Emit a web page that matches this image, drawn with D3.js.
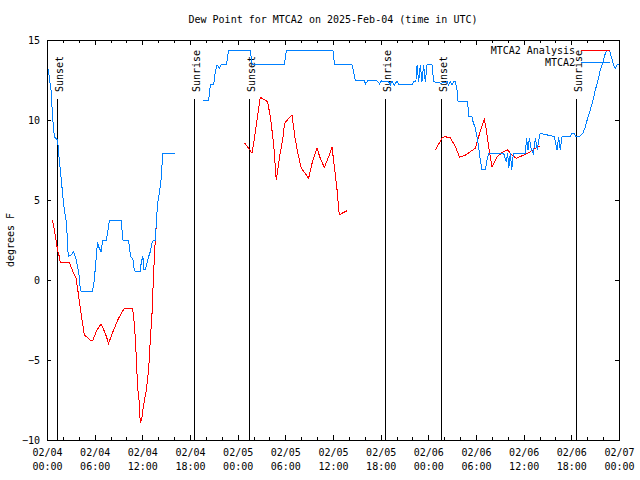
<!DOCTYPE html>
<html><head><meta charset="utf-8">
<script src="https://cdn.jsdelivr.net/npm/d3@7"></script>
<style>
body{margin:0;background:#fff;}
text{font-family:"DejaVu Sans Mono","Liberation Mono",monospace;font-size:10px;fill:#000;}
</style></head>
<body><svg id="c" width="640" height="480"></svg>
<script>
const title = "Dew Point for MTCA2 on 2025-Feb-04 (time in UTC)";
const yLabel = "degrees F";
const startUTC = Date.UTC(2025, 1, 4, 0, 0);
const xTickHours = [0,6,12,18,24,30,36,42,48,54,60,66,72];
const xMinorHours = d3.range(0, 73, 2);
const yTicks = [-10,-5,0,5,10,15];
const sunEvents = ["Sunset","Sunrise","Sunset","Sunrise","Sunset","Sunrise"];
const sunHours = [1.33, 18.56, 25.5, 42.62, 49.63, 66.63];
const legendNames = ["MTCA2 Analysis","MTCA2"];

// MTCA2 observed (hours since 02/04 00:00 UTC, deg F); null = gap
const obsHours = [0.16,0.5,0.7,0.92,1.33,1.55,1.76,1.96,2.18,2.39,2.52,2.68,3.02,3.35,3.56,3.69,3.85,4.07,4.19,4.28,5.74,5.95,6.17,6.37,6.5,6.8,7.0,7.43,7.63,7.84,9.32,9.57,10.27,10.4,10.57,10.83,10.99,11.12,11.74,11.87,12.08,12.16,12.37,12.79,13.0,13.22,13.42,13.63,13.76,13.92,14.14,14.35,14.51,14.6,16.15,
 17.5,
 19.59,20.34,20.56,20.97,21.19,21.4,21.73,21.9,22.57,22.86,25.59,25.81,25.93,29.87,30.13,36.0,36.17,36.29,38.39,38.6,38.81,39.94,40.1,40.36,41.54,41.87,42.08,43.0,43.21,43.43,43.72,44.06,44.35,44.69,45.95,46.15,46.43,46.58,46.78,46.99,47.2,47.41,47.62,47.83,48.46,48.67,49.63,50.35,50.55,50.77,50.98,51.18,51.4,51.61,51.74,52.95,53.07,53.5,53.63,53.92,54.2,54.38,54.54,54.76,55.17,55.39,55.59,55.8,57.48,57.82,57.98,58.13,58.32,58.5,58.7,60.21,60.37,60.55,60.71,60.96,61.22,61.47,61.72,61.97,62.1,63.86,64.2,64.4,64.61,64.83,65.87,66.09,66.38,66.56,67.0,67.47,67.76,68.05,68.39,68.73,69.02,69.31,69.65,69.99,70.28,70.49,70.82,71.03,71.32,71.54,71.75,72.0];
const obsValues = [13.17,11.88,10.21,8.96,8.75,7.5,6.46,5.42,4.38,3.75,2.92,1.46,1.56,1.77,1.46,1.25,0.83,0.21,-0.63,-0.69,-0.69,0,1.25,2.4,2.08,1.77,2.46,2.46,2.92,3.71,3.71,2.5,2.5,1.88,1.46,1.25,0.63,0.52,0.52,1.14,1.46,0.63,0.63,1.46,1.77,2.29,2.5,2.5,3.56,4.79,5.44,6.25,7.39,7.92,7.92,
 null,
 11.19,11.19,12.19,12.19,13.02,13.44,13.23,13.44,13.44,14.33,14.33,13.54,13.44,13.44,14.33,14.33,13.54,13.44,13.44,13.02,12.46,12.46,12.25,12.44,12.44,12.25,12.44,12.4,12.19,12.44,12.19,12.44,12.19,12.19,12.19,12.4,12.4,13.44,12.4,13.44,12.4,13.44,12.4,13.44,13.44,12.4,12.29,12.4,12.19,12.4,12.19,12.4,12.4,11.88,11.14,11.14,10.21,10.21,9.89,9.48,8.75,8.13,7.5,6.88,6.88,7.5,7.92,7.92,7.92,7.39,7.92,7.0,7.92,6.88,7.92,7.92,8.86,8.13,8.86,8.13,7.92,8.86,8.13,8.96,9.17,8.96,8.13,8.96,8.13,8.96,8.96,9.17,9.17,8.96,8.96,9.17,9.58,10.1,10.63,11.25,11.88,12.4,13.13,13.64,14.17,14.33,14.33,13.96,13.44,13.23,13.44,13.44];

// MTCA2 Analysis
const anaHours = [0.7,0.92,1.13,1.33,1.55,1.67,2.81,3.02,3.44,3.65,3.85,4.1,4.41,4.7,5.04,5.45,5.74,6.29,6.8,7.34,7.75,8.38,9.01,9.73,10.78,11.03,11.24,11.4,11.62,11.74,11.96,12.16,12.5,12.79,13.0,13.22,13.42,13.63,13.76,
 20.0,
 24.84,25.38,25.81,26.01,26.43,26.85,27.27,27.77,28.11,28.52,28.86,29.28,29.66,29.91,30.41,30.84,31.26,31.67,32.01,32.51,32.93,33.36,33.99,34.4,34.91,35.45,35.88,36.17,36.51,36.79,37.13,37.76,
 44.0,
 48.88,49.72,50.05,50.77,51.4,51.94,52.66,53.29,53.92,54.46,55.05,55.3,55.59,56.02,56.65,57.28,57.98,58.53,59.08,60.0,60.84,61.47,62.1];
const anaValues = [3.75,3.13,2.5,1.88,1.46,1.08,1.08,0.83,0.31,0.11,-0.52,-1.44,-2.5,-3.44,-3.58,-3.75,-3.79,-3.13,-2.75,-3.33,-3.96,-3.13,-2.39,-1.77,-1.77,-2.92,-4.79,-6.67,-7.69,-8.96,-8.54,-7.81,-6.88,-5.63,-3.75,-2.08,0.42,2.5,3.44,
 null,
 8.58,8.23,7.92,8.54,10.0,11.42,11.29,11.14,10.21,8.54,6.25,7.71,8.75,9.79,10.1,10.31,8.75,7.71,6.98,6.67,6.35,7.29,8.23,7.6,7.04,7.71,8.29,7.08,5.63,4.06,4.17,4.33,
 null,
 8.13,8.86,8.96,8.89,8.33,7.67,7.81,8.02,8.23,9.17,10.04,9.38,8.33,7.08,7.71,7.96,8.13,7.81,7.6,7.81,8.02,8.23,8.38];

const toDate = h => new Date(startUTC + h * 3600e3);
const L = 47, R = 619, T = 40, B = 440;
const svg = d3.select("#c");
const x = d3.scaleUtc().domain([toDate(0), toDate(72)]).range([L, R]);
const y = d3.scaleLinear().domain([-10, 15]).range([B, T]);

// title
svg.append("text").attr("x", 333).attr("y", 23).attr("text-anchor", "middle").text(title);
svg.append("text").attr("transform", "translate(14,240) rotate(-90)").attr("text-anchor", "middle").text(yLabel);

// axes
const fmtD = d3.utcFormat("%m/%d"), fmtT = d3.utcFormat("%H:%M");
const gxb = svg.append("g").attr("transform", `translate(0,${B})`)
  .call(d3.axisBottom(x).tickValues(xTickHours.map(toDate)).tickSizeInner(-5).tickSizeOuter(0).tickFormat(""));
gxb.selectAll(".tick").append("text").attr("y", 16).attr("text-anchor","middle")
  .each(function(d){ const t=d3.select(this);
    t.append("tspan").attr("x",0).text(fmtD(d));
    t.append("tspan").attr("x",0).attr("dy",14).text(fmtT(d)); });
svg.append("g").attr("transform", `translate(0,${B})`)
  .call(d3.axisBottom(x).tickValues(xMinorHours.map(toDate)).tickSizeInner(-3).tickSizeOuter(0).tickFormat(""));
svg.append("g").attr("transform", `translate(0,${T})`)
  .call(d3.axisTop(x).tickValues(xTickHours.map(toDate)).tickSizeInner(-5).tickSizeOuter(0).tickFormat(""));
svg.append("g").attr("transform", `translate(0,${T})`)
  .call(d3.axisTop(x).tickValues(xMinorHours.map(toDate)).tickSizeInner(-3).tickSizeOuter(0).tickFormat(""));
const gyl = svg.append("g").attr("transform", `translate(${L},0)`)
  .call(d3.axisLeft(y).tickValues(yTicks).tickSizeInner(-4).tickSizeOuter(0).tickPadding(8).tickFormat(d3.format("d")));
gyl.selectAll("text").attr("x", -7).attr("dy","0.35em");
svg.append("g").attr("transform", `translate(${R},0)`)
  .call(d3.axisRight(y).tickValues(yTicks).tickSizeInner(-4).tickSizeOuter(0).tickFormat(""));
svg.selectAll(".domain").remove();
svg.selectAll(".tick line").attr("stroke","#000").attr("shape-rendering","crispEdges");
svg.selectAll(".tick text").style("font-family",'"DejaVu Sans Mono",monospace').style("font-size","10px").attr("fill","#000");

// sunrise / sunset
sunHours.forEach((h,i)=>{
  const sx = x(toDate(h));
  svg.append("line").attr("x1",sx).attr("x2",sx).attr("y1",99).attr("y2",B)
    .attr("stroke","#000").attr("shape-rendering","crispEdges");
  svg.append("text").attr("transform",`translate(${sx+5.5},92) rotate(-90)`).text(sunEvents[i]);
});

// lines
const line = d3.line().defined(d=>d[1]!==null).x(d=>x(toDate(d[0]))).y(d=>y(d[1]));
const obs = obsHours.map((h,i)=>[h,obsValues[i]]);
const ana = anaHours.map((h,i)=>[h,anaValues[i]]);
svg.append("path").datum(ana).attr("d",line).attr("fill","none").attr("stroke","#ff0000").attr("stroke-width",1).attr("shape-rendering","crispEdges");
svg.append("path").datum(obs).attr("d",line).attr("fill","none").attr("stroke","#0080ff").attr("stroke-width",1).attr("shape-rendering","crispEdges");

// border
svg.append("rect").attr("x",L+0.5).attr("y",T+0.5).attr("width",R-L).attr("height",B-T)
  .attr("fill","none").attr("stroke","#000").attr("shape-rendering","crispEdges");

// legend
const legColors = ["#ff0000","#0080ff"];
legendNames.forEach((n,i)=>{
  const ly = 50 + i*12;
  svg.append("text").attr("x",575).attr("y",ly).attr("dy","0.35em").attr("text-anchor","end").text(n);
  svg.append("line").attr("x1",581).attr("x2",610).attr("y1",ly+0.5).attr("y2",ly+0.5).attr("stroke",legColors[i]).attr("shape-rendering","crispEdges");
});
</script></body></html>
